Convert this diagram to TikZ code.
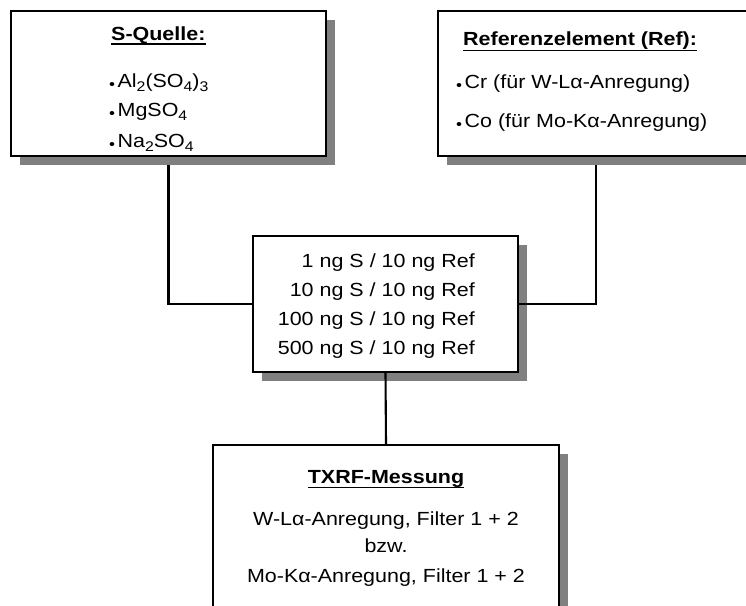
\documentclass[tikz,border=0pt]{standalone}
\usepackage{fontspec}
\setmainfont{Liberation Sans}[FakeStretch=1.13]
\usetikzlibrary{shadows}
\definecolor{shadowgray}{HTML}{808080}
\pgfdeclarelayer{front}
\pgfsetlayers{main,front}
% small bullet sitting close to the baseline
\newcommand\itm{\raisebox{-2pt}{\fontsize{15}{15}\selectfont•}\hspace{2.5pt}}
% lowered, slightly reduced chemical index
\newcommand\idx[1]{\raisebox{-4.5pt}{\fontsize{14}{14}\selectfont #1}}
\begin{document}
\begin{tikzpicture}[x=1pt,y=-1pt,
  every node/.style={font=\fontsize{19}{29}\selectfont},
  box/.style={draw=black, line width=1.7pt, fill=white, inner sep=0pt,
    drop shadow={shadow xshift=9pt, shadow yshift=-9pt, fill=shadowgray, opacity=1}},
  txt/.style={inner sep=0pt},
  uline/.style={draw=black, line width=1.7pt},
  link/.style={draw=black, line width=2.1pt}]
\useasboundingbox (0,0) rectangle (746,605);

% upper boxes: sulfur sources and reference elements
\begin{pgfonlayer}{front}
\node[box, minimum width=315pt, minimum height=145pt] (src) at (168.5,83.5) {};
\node[txt, anchor=base west] (srch) at (111,40) {\bfseries S-Quelle:};
\draw[uline] ([yshift=-3.8pt]srch.base west) -- ([yshift=-3.8pt]srch.base east);
\node[txt, anchor=base west] (s1) at (109,87) {\itm Al\idx{2}(SO\idx{4})\idx{3}};
\node[txt, anchor=base west] (s2) at (109,116) {\itm MgSO\idx{4}};
\node[txt, anchor=base west] (s3) at (109,147) {\itm Na\idx{2}SO\idx{4}};

\node[box, minimum width=316pt, minimum height=145pt] (ref) at (596,83.5) {};
\node[txt, anchor=base west] (refh) at (463,45) {\bfseries Referenzelement (Ref):};
\draw[uline] ([yshift=-5.5pt]refh.base west) -- ([yshift=-5.5pt]refh.base east);
\node[txt, anchor=base west] (r1) at (456,88) {\itm Cr (für W-Lα-Anregung)};
\node[txt, anchor=base west] (r2) at (456,127) {\itm Co (für Mo-Kα-Anregung)};
\end{pgfonlayer}

% mixing ratios
\node[box, minimum width=265pt, minimum height=136pt] (mix) at (385.5,304) {};
\node[txt, anchor=base east] (m1) at (475,267) {1 ng S / 10 ng Ref};
\node[txt, anchor=base east] (m2) at (475,296) {10 ng S / 10 ng Ref};
\node[txt, anchor=base east] (m3) at (475,325) {100 ng S / 10 ng Ref};
\node[txt, anchor=base east] (m4) at (475,354) {500 ng S / 10 ng Ref};

% connectors
\draw[link] (src.south) |- (mix.west);
\draw[link] (ref.south) |- (mix.east);

% measurement
\node[box, minimum width=346pt, minimum height=165pt] (txrf) at (386,527.5) {};
\node[txt, anchor=base] (th) at (386,483) {\bfseries TXRF-Messung};
\draw[uline] ([yshift=-4.5pt]th.base west) -- ([yshift=-4.5pt]th.base east);
\node[txt, anchor=base] (t1) at (386,525) {W-Lα-Anregung, Filter 1 + 2};
\node[txt, anchor=base] (t2) at (386,552) {bzw.};
\node[txt, anchor=base] (t3) at (386,582) {Mo-Kα-Anregung, Filter 1 + 2};

\draw[link] (mix.south) -- (txrf.north);
\end{tikzpicture}
\end{document}
